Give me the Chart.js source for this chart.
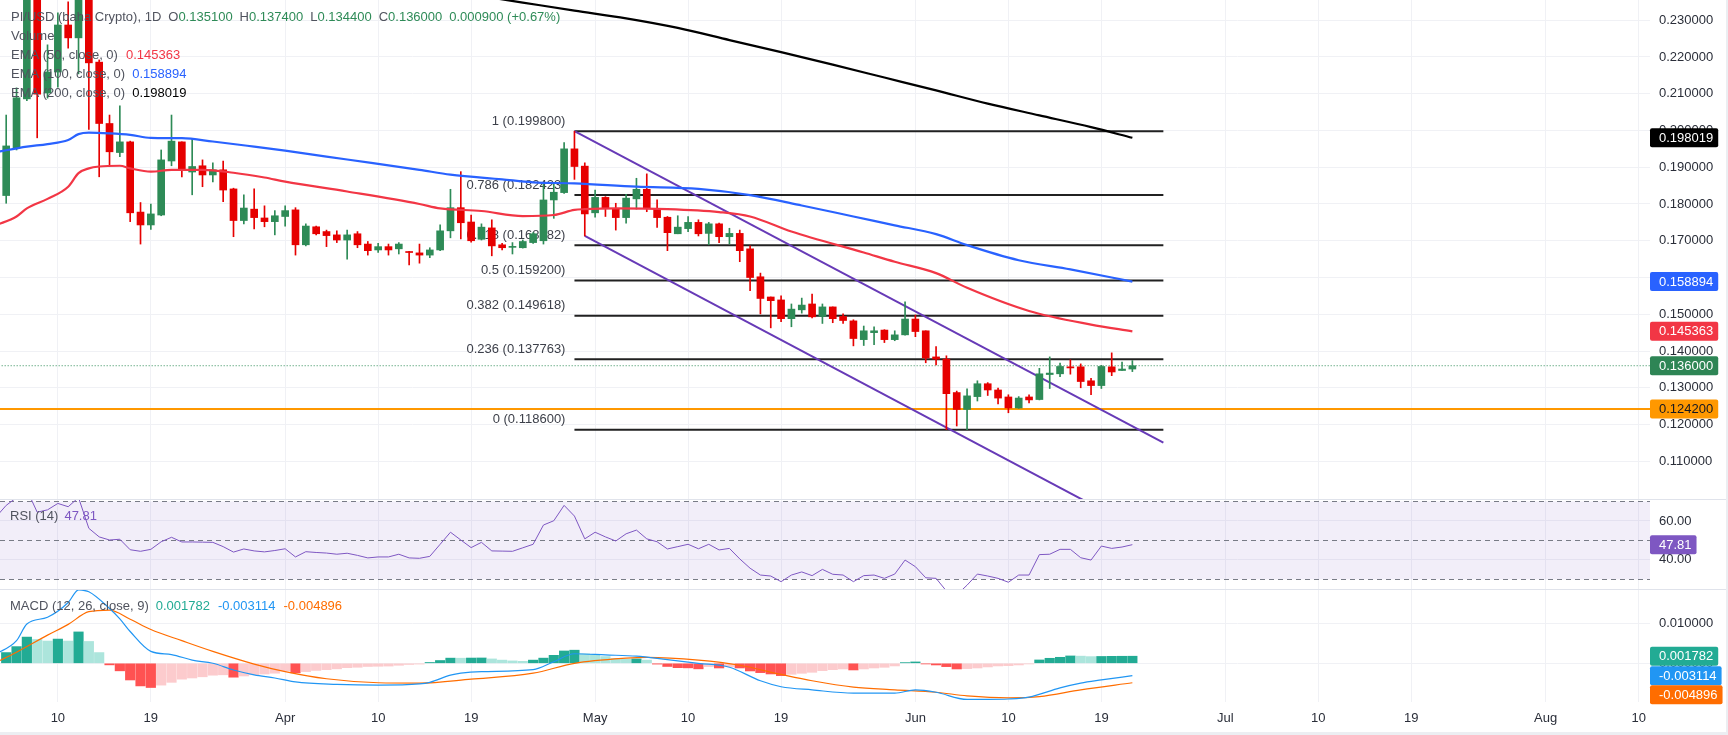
<!DOCTYPE html>
<html><head><meta charset="utf-8">
<script src="https://cdn.jsdelivr.net/npm/chart.js@4.4.1/dist/chart.umd.min.js"></script>
<style>
html,body{margin:0;padding:0;background:#fff;}
#wrap{position:relative;width:1728px;height:735px;overflow:hidden;background:#fff;}
canvas{position:absolute;left:0;}
.sep{position:absolute;left:0;width:1728px;height:1px;background:#e0e3eb;}
</style></head><body>
<div id="wrap">
<canvas id="cMain" width="1728" height="499" style="top:0"></canvas>
<div class="sep" style="top:499px"></div>
<canvas id="cRsi" width="1728" height="89" style="top:500px"></canvas>
<div class="sep" style="top:589px"></div>
<canvas id="cMacd" width="1728" height="145" style="top:590px"></canvas>
<div style="position:absolute;left:1726px;top:0;width:2px;height:735px;background:#eceef2"></div>
<div style="position:absolute;left:0;top:732px;width:1728px;height:3px;background:#eceef2"></div>
</div>
<script>
// ---------- DATA (day numbers count from 10 Mar 2025 = day 0) ----------
const tickDays   = [0, 9, 22, 31, 40, 52, 61, 70, 83, 92, 101, 113, 122, 131, 144, 153];
const tickLabels = ['10','19','Apr','10','19','May','10','19','Jun','10','19','Jul','10','19','Aug','10'];
const priceTicks = [0.11,0.12,0.13,0.14,0.15,0.16,0.17,0.18,0.19,0.20,0.21,0.22,0.23];
const rsiTicks   = [60, 40];
const macdTicks  = [0.01, 0];

const firstCandleDay = -5; // 5 Mar 2025, one candle per day
const opens = [0.1823,0.1953,0.2086,0.2420,0.2102,0.2159,0.2287,0.2252,0.2390,0.2186,
 0.2019,0.1940,0.1969,0.1778,0.1743,0.1770,0.1917,0.1969,0.1887,0.1904,
 0.1879,0.1893,0.1841,0.1755,0.1786,0.1762,0.1752,0.1766,0.1784,0.1689,
 0.1738,0.1725,0.1716,0.1702,0.1719,0.1691,0.1675,0.1684,0.1678,0.1670,
 0.1667,0.1661,0.1675,0.1727,0.1790,0.1751,0.1704,0.1735,0.1689,0.1682,
 0.1681,0.1695,0.1700,0.1811,0.1831,0.1950,0.1903,0.1776,0.1818,0.1788,
 0.1763,0.1814,0.1840,0.1788,0.1764,0.1719,0.1733,0.1750,0.1720,0.1746,
 0.1711,0.1720,0.1678,0.1602,0.1547,0.1539,0.1488,0.1512,0.1528,0.1494,
 0.1520,0.1494,0.1482,0.1431,0.1450,0.1457,0.1431,0.1444,0.1487,0.1455,
 0.1384,0.1378,0.1287,0.1241,0.1276,0.1311,0.1294,0.1275,0.1245,0.1275,
 0.1268,0.1336,0.1338,0.1357,0.1357,0.1319,0.1306,0.1357,0.1347,0.1351];
const highs = [0.2042,0.2116,0.2450,0.2480,0.2233,0.2320,0.2350,0.2440,0.2420,0.2192,
 0.2042,0.2067,0.1971,0.1804,0.1800,0.1947,0.2042,0.1969,0.1976,0.1920,
 0.1912,0.1917,0.1843,0.1825,0.1841,0.1795,0.1782,0.1795,0.1790,0.1746,
 0.1740,0.1729,0.1727,0.1729,0.1725,0.1698,0.1693,0.1691,0.1695,0.1671,
 0.1691,0.1681,0.1743,0.1840,0.1888,0.1770,0.1746,0.1757,0.1693,0.1695,
 0.1702,0.1722,0.1856,0.1858,0.1967,0.1998,0.1912,0.1838,0.1820,0.1802,
 0.1826,0.1870,0.1882,0.1811,0.1766,0.1768,0.1766,0.1757,0.1750,0.1748,
 0.1734,0.1729,0.1686,0.1612,0.1547,0.1550,0.1528,0.1544,0.1555,0.1528,
 0.1520,0.1501,0.1485,0.1468,0.1466,0.1458,0.1455,0.1534,0.1498,0.1455,
 0.1412,0.1387,0.1291,0.1297,0.1319,0.1314,0.1299,0.1281,0.1276,0.1281,
 0.1353,0.1384,0.1367,0.1376,0.1365,0.1326,0.1361,0.1395,0.1370,0.1374];
const lows = [0.1802,0.1947,0.2081,0.1980,0.2088,0.2118,0.2224,0.2154,0.2003,0.1874,
 0.1906,0.1929,0.1752,0.1691,0.1731,0.1768,0.1904,0.1874,0.1825,0.1847,
 0.1860,0.1806,0.1711,0.1746,0.1732,0.1738,0.1716,0.1740,0.1661,0.1686,
 0.1716,0.1684,0.1695,0.1650,0.1681,0.1661,0.1668,0.1661,0.1664,0.1634,
 0.1639,0.1654,0.1673,0.1708,0.1705,0.1696,0.1702,0.1659,0.1675,0.1664,
 0.1680,0.1693,0.1691,0.1761,0.1829,0.1867,0.1713,0.1764,0.1766,0.1729,
 0.1748,0.1786,0.1779,0.1736,0.1673,0.1719,0.1725,0.1713,0.1689,0.1695,
 0.1691,0.1643,0.1564,0.1501,0.1463,0.1480,0.1466,0.1503,0.1490,0.1475,
 0.1477,0.1475,0.1414,0.1415,0.1417,0.1423,0.1428,0.1443,0.1439,0.1368,
 0.1362,0.1186,0.1196,0.1186,0.1264,0.1279,0.1256,0.1232,0.1244,0.1259,
 0.1267,0.1298,0.1330,0.1337,0.1300,0.1281,0.1298,0.1333,0.1347,0.1344];
const closes = [0.1958,0.2089,0.2420,0.2099,0.2159,0.2287,0.2252,0.2390,0.2184,0.2019,
 0.1942,0.1969,0.1776,0.1743,0.1773,0.1920,0.1971,0.1891,0.1902,0.1879,
 0.1893,0.1838,0.1755,0.1789,0.1763,0.1752,0.1768,0.1782,0.1689,0.1740,
 0.1719,0.1714,0.1702,0.1716,0.1689,0.1673,0.1684,0.1675,0.1691,0.1668,
 0.1661,0.1675,0.1727,0.1790,0.1749,0.1700,0.1737,0.1686,0.1681,0.1684,
 0.1698,0.1719,0.1811,0.1832,0.1950,0.1902,0.1773,0.1818,0.1788,0.1763,
 0.1816,0.1840,0.1788,0.1763,0.1722,0.1737,0.1750,0.1719,0.1746,0.1711,
 0.1720,0.1673,0.1600,0.1543,0.1537,0.1488,0.1514,0.1525,0.1493,0.1520,
 0.1488,0.1483,0.1434,0.1455,0.1455,0.1431,0.1444,0.1487,0.1453,0.1381,
 0.1378,0.1284,0.1241,0.1278,0.1311,0.1294,0.1272,0.1245,0.1272,0.1267,
 0.1338,0.1340,0.1358,0.1354,0.1317,0.1306,0.1358,0.1343,0.1351,0.1360];

const ema50Days = [-6,-4,-3,-1,1,2,3,4,6,7,9,11,14,17,20,22,28,35,37,41,45,48,50,51,54,59,64,67,71,78,81,85,88,94,100,104];
const ema50Vals = [0.1742,0.1766,0.1788,0.1814,0.1847,0.1884,0.1897,0.1902,0.1904,0.1897,0.1888,0.1893,0.1893,0.1885,0.1872,0.1861,0.1834,0.1800,0.1788,0.1781,0.1767,0.1770,0.1784,0.1786,0.1788,0.1786,0.1778,0.1766,0.1725,0.1668,0.1643,0.1612,0.1572,0.1509,0.1472,0.145363];
const ema100Days = [-6,-3,-1,1,2,3,5,7,9,12,15,19,22,28,35,38,43,46,50,56,62,67,72,77,81,85,88,93,98,104];
const ema100Vals = [0.1941,0.1956,0.1963,0.1974,0.1990,0.1994,0.1992,0.1988,0.1980,0.1979,0.1970,0.1956,0.1945,0.1921,0.1893,0.1880,0.1867,0.1859,0.1856,0.1847,0.1841,0.1824,0.1796,0.1766,0.1742,0.1718,0.1688,0.1647,0.1622,0.158894];
const ema200Days = [35,40,45,50,55,60,65,70,75,80,85,90,95,100,104];
const ema200Vals = [0.2392,0.2370,0.2348,0.2326,0.2305,0.2279,0.2246,0.2213,0.2179,0.2144,0.2109,0.2073,0.2041,0.2009,0.198019];

const fibRatios = [1, 0.786, 0.618, 0.5, 0.382, 0.236, 0];
const fibLevels = [0.1998, 0.182423, 0.168782, 0.1592, 0.149618, 0.137763, 0.1186];
const fibSpanDays = [50, 107];
const channelUpperDays = [50, 107];
const channelUpperVals = [0.1998, 0.1151];
const channelLowerDays = [51, 107];
const channelLowerVals = [0.1713, 0.0879];
const supportLevel = 0.1242;

const rsiFirstDay = -6;
const rsiValues = [62,68,72,76,64.5,65.7,69,67.3,72,56.2,
 51.8,50.2,50.6,45.2,44.4,45.4,49.3,51.6,49.2,49.2,
 49.1,49.0,46.8,44.0,45.6,44.6,44.1,44.8,45.7,41.5,
 44.2,43.8,43.5,42.9,43.4,42.3,41.0,41.5,41.5,42.9,
 41.0,40.8,41.8,48.0,54.2,50.2,46.3,49.0,44.6,44.5,
 44.4,46.2,48.0,57.9,60.1,68.0,62.5,50.8,54.2,51.8,
 49.7,53.4,55.3,50.8,49.3,45.6,46.8,48.0,45.7,48.0,
 45.1,45.9,40.5,35.7,32.2,31.7,28.8,32.2,33.8,31.9,
 35.1,32.6,32.2,28.8,31.9,32.2,30.5,32.7,39.9,36.5,
 30.8,30.5,24.0,22.0,27.0,32.7,31.7,30.5,28.5,32.2,
 32.2,42.7,42.9,45.4,45.4,41.1,39.9,47.1,45.9,46.6,47.81];

const histFirstDay = -5;
const histValues = [0.0027,0.0042,0.0066,0.0060,0.0056,0.0061,0.0056,0.0079,0.0055,0.0027,
 -0.0004,-0.0019,-0.0042,-0.0057,-0.0061,-0.0055,-0.0048,-0.0040,-0.0037,-0.0034,
 -0.0030,-0.0029,-0.0035,-0.0032,-0.0029,-0.0027,-0.0025,-0.0019,-0.0024,-0.0021,
 -0.0018,-0.0016,-0.0014,-0.0011,-0.0010,-0.0008,-0.00075,-0.0007,-0.0005,-0.0003,
 -0.0002,0.0002,0.0007,0.0013,0.00128,0.00132,0.00134,0.0011,0.0008,0.0006,
 0.0005,0.0008,0.0013,0.0020,0.0031,0.0033,0.0024,0.0022,0.0017,0.0012,
 0.00105,0.0011,0.0008,-0.0002,-0.0008,-0.0011,-0.00115,-0.0014,-0.00084,-0.00118,
 -0.00084,-0.00118,-0.00193,-0.00235,-0.00269,-0.00311,-0.00277,-0.00252,-0.00227,-0.00185,
 -0.0016,-0.00143,-0.00168,-0.00143,-0.00118,-0.00101,-0.00067,0.00017,0.00034,-0.00017,
 -0.00042,-0.00084,-0.00143,-0.00134,-0.00118,-0.00092,-0.00067,-0.00059,-0.00042,-0.00017,
 0.00084,0.00126,0.00151,0.00185,0.00180,0.00168,0.00172,0.00175,0.00177,0.001782];
const macdDays = [-6,-4,-3,-1,1,2,3,5,6,7,9,11,13,15,17,19,21,23,27,31,35,36,38,39,41,46,48,50,53,56,59,62,65,68,70,73,77,81,83,85,88,90,92,94,97,99,101,104];
const macdVals = [0.0023,0.0057,0.0099,0.0116,0.0153,0.0185,0.0180,0.0138,0.0112,0.0080,0.0030,0.0022,0.0008,0.0000,-0.0017,-0.0029,-0.0037,-0.0047,-0.0053,-0.0055,-0.0052,-0.0048,-0.0030,-0.0025,-0.0021,-0.0016,0.0004,0.0024,0.0021,0.0018,0.0009,0.0000,-0.0010,-0.0044,-0.0059,-0.0067,-0.0075,-0.0075,-0.0067,-0.0073,-0.0091,-0.0091,-0.0090,-0.0085,-0.0062,-0.0050,-0.0042,-0.003114];
const signalDays = [-6,-4,-1,1,3,5,7,9,12,15,19,22,26,31,35,40,46,50,55,57,62,66,70,73,77,81,85,88,92,95,99,104];
const signalVals = [0.0002,0.0028,0.0071,0.0098,0.0130,0.0134,0.0111,0.0085,0.0057,0.0030,-0.0002,-0.0021,-0.0039,-0.0049,-0.0050,-0.0040,-0.0025,0.0000,0.0013,0.0015,0.0008,-0.0005,-0.0028,-0.0044,-0.0060,-0.0067,-0.0073,-0.0082,-0.0087,-0.0084,-0.0067,-0.004896];

// ---------- VIEW ----------
const X_MIN = -5.6, X_MAX = 154.1;
const PRICE_MIN = 0.09974, PRICE_MAX = 0.2355;
const RSI_MIN = 25.03, RSI_MAX = 70.76;
const MACD_MIN = -0.00975, MACD_MAX = 0.01846;

const FONT = "'Liberation Sans', Arial, sans-serif";
const GRID = '#f0f1f5', TXT = '#2a2e39', LEG = '#50535e';
const GREEN = '#2e8b57', RED = '#e60000';
Chart.defaults.font.family = FONT;
Chart.defaults.font.size = 13;

const candleDays = opens.map((_, i) => firstCandleDay + i);
const candleColors = opens.map((o, i) => closes[i] >= o ? GREEN : RED);
const pts = (days, vals) => days.map((d, i) => ({x: d, y: vals[i]}));
const last = a => a[a.length - 1];

function zeroPad(s){ s.paddingTop = s.paddingBottom = s.paddingLeft = s.paddingRight = 0; }
function xAxis(show){
  return {type:'linear', min:X_MIN, max:X_MAX, offset:false,
    grid:{color:GRID, drawTicks:false, offset:false}, border:{display:false},
    ticks:{display:show, autoSkip:false, maxRotation:0, padding:9, color:TXT, font:{size:13},
      callback:(v, i) => tickLabels[i]},
    afterBuildTicks:s => { s.ticks = tickDays.map(v => ({value:v})); },
    afterFit:s => { s.height = show ? 33 : 0; zeroPad(s); }};
}
function yAxis(min, max, ticks, fmt){
  return {position:'right', min, max,
    grid:{color:GRID, drawTicks:false}, border:{display:false},
    ticks:{padding:9, color:TXT, font:{size:13}, callback:v => fmt(v)},
    afterBuildTicks:s => { s.ticks = ticks.map(v => ({value:v})); },
    afterFit:s => { s.width = 78; zeroPad(s); }};
}
function runs(ctx, x, y, list){
  list.forEach(([t, c, g]) => { x += (g || 0); ctx.fillStyle = c; ctx.fillText(t, x, y); x += ctx.measureText(t).width; });
}
function box(ctx, x, yc, text, bg, fg){
  ctx.font = '13px ' + FONT;
  const w = ctx.measureText(text).width + 14;
  ctx.fillStyle = bg;
  ctx.beginPath();
  if (ctx.roundRect) ctx.roundRect(x, yc - 9.5, w, 19, 2); else ctx.rect(x, yc - 9.5, w, 19);
  ctx.fill();
  ctx.fillStyle = fg; ctx.textAlign = 'left'; ctx.textBaseline = 'middle';
  ctx.fillText(text, x + 9, yc + 0.5);
}
const baseOpts = {responsive:false, animation:false, events:[], layout:{padding:0},
  plugins:{legend:{display:false}, tooltip:{enabled:false}}};

// ---------- MAIN PANE ----------
const lineDs = (data, color, width, order, extra) => Object.assign(
  {type:'line', data, borderColor:color, borderWidth:width, pointRadius:0, fill:false, order, clip:0}, extra || {});

const mainDatasets = [
  lineDs(pts(ema50Days, ema50Vals), '#f23645', 2.2, 0, {cubicInterpolationMode:'monotone'}),
  lineDs(pts(ema100Days, ema100Vals), '#2962ff', 2.2, 0, {cubicInterpolationMode:'monotone'}),
  lineDs(pts(ema200Days, ema200Vals), '#000000', 2.2, 0, {cubicInterpolationMode:'monotone'}),
  {type:'bar', data:candleDays.map((d, i) => ({x:d, y:[opens[i], closes[i]]})), backgroundColor:candleColors,
    barThickness:7, grouped:false, minBarLength:1, borderWidth:0, order:1, clip:0},
  {type:'bar', data:candleDays.map((d, i) => ({x:d, y:[lows[i], highs[i]]})), backgroundColor:candleColors,
    barThickness:1, grouped:false, borderWidth:0, order:2, clip:0},
  lineDs(pts(channelUpperDays, channelUpperVals), '#673ab7', 2, 3),
  lineDs(pts(channelLowerDays, channelLowerVals), '#673ab7', 2, 3),
  lineDs([{x:X_MIN - 1, y:supportLevel}, {x:X_MAX + 1, y:supportLevel}], '#ff9800', 2, 5),
  lineDs([{x:X_MIN - 1, y:last(closes)}, {x:X_MAX + 1, y:last(closes)}], GREEN, 1, 5, {borderDash:[1, 2]})
];
fibLevels.forEach(lv => mainDatasets.push(lineDs(pts(fibSpanDays, [lv, lv]), '#212121', 2, 4)));

const fibLabelPlugin = {id:'fibLabels', beforeDatasetsDraw(chart){
  const {ctx, scales:{x, y}} = chart;
  ctx.save(); ctx.font = '13px ' + FONT; ctx.fillStyle = '#3d404a'; ctx.textAlign = 'right'; ctx.textBaseline = 'middle';
  const xr = x.getPixelForValue(fibSpanDays[0]) - 9;
  fibLevels.forEach((lv, i) => ctx.fillText(fibRatios[i] + ' (' + lv.toFixed(6) + ')', xr, y.getPixelForValue(lv) - 10));
  ctx.restore();
}};
const mainOverlay = {id:'mainOverlay', afterDraw(chart){
  const {ctx, chartArea, scales:{y}} = chart;
  ctx.save(); ctx.font = '13px ' + FONT; ctx.textAlign = 'left'; ctx.textBaseline = 'middle';
  const n = closes.length - 1, f = v => v.toFixed(6);
  const ch = closes[n] - closes[n - 1];
  const chTxt = (ch >= 0 ? '' : '-') + Math.abs(ch).toFixed(6) + ' (' + (ch >= 0 ? '+' : '') + (ch / closes[n - 1] * 100).toFixed(2) + '%)';
  const vc = closes[n] >= opens[n] ? GREEN : RED;
  runs(ctx, 11, 17.5, [['PI/USD (baha Crypto), 1D', LEG], ['O', LEG, 7], [f(opens[n]), vc], ['H', LEG, 7], [f(highs[n]), vc],
    ['L', LEG, 7], [f(lows[n]), vc], ['C', LEG, 7], [f(closes[n]), vc], [chTxt, vc, 7]]);
  runs(ctx, 11, 36.5, [['Volume', LEG]]);
  runs(ctx, 11, 55.5, [['EMA (50, close, 0)', LEG], [f(last(ema50Vals)), '#f23645', 8]]);
  runs(ctx, 11, 74.5, [['EMA (100, close, 0)', LEG], [f(last(ema100Vals)), '#2962ff', 7]]);
  runs(ctx, 11, 93.5, [['EMA (200, close, 0)', LEG], [f(last(ema200Vals)), '#000000', 7]]);
  const xb = chartArea.right;
  [[last(ema200Vals), '#000000', '#ffffff'], [last(ema100Vals), '#2962ff', '#ffffff'], [last(ema50Vals), '#f23645', '#ffffff'],
   [last(closes), '#2e8555', '#ffffff'], [supportLevel, '#ff9800', '#131722']]
    .forEach(([v, bg, fg]) => box(ctx, xb, y.getPixelForValue(v), v.toFixed(6), bg, fg));
  ctx.restore();
}};
new Chart(document.getElementById('cMain'), {type:'line', data:{datasets:mainDatasets},
  options:Object.assign({}, baseOpts, {scales:{x:xAxis(false), y:yAxis(PRICE_MIN, PRICE_MAX, priceTicks, v => v.toFixed(6))}}),
  plugins:[fibLabelPlugin, mainOverlay]});

// ---------- RSI PANE ----------
const rsiBand = {id:'rsiBand', beforeDatasetsDraw(chart){
  const {ctx, chartArea:a, scales:{y}} = chart;
  ctx.save();
  ctx.fillStyle = 'rgba(126,87,194,0.1)';
  ctx.fillRect(a.left, y.getPixelForValue(70), a.right - a.left, y.getPixelForValue(30) - y.getPixelForValue(70));
  ctx.strokeStyle = '#787b86'; ctx.lineWidth = 1; ctx.setLineDash([5, 4]);
  [70, 50, 30].forEach(v => { const py = Math.round(y.getPixelForValue(v)) + 0.5; ctx.beginPath(); ctx.moveTo(a.left, py); ctx.lineTo(a.right, py); ctx.stroke(); });
  ctx.restore();
}};
const rsiOverlay = {id:'rsiOverlay', afterDraw(chart){
  const {ctx, chartArea:a, scales:{y}} = chart;
  ctx.save(); ctx.font = '13px ' + FONT; ctx.textAlign = 'left'; ctx.textBaseline = 'middle';
  runs(ctx, 10, 16.5, [['RSI (14)', LEG], [last(rsiValues).toFixed(2), '#7e57c2', 6]]);
  box(ctx, a.right, y.getPixelForValue(last(rsiValues)), last(rsiValues).toFixed(2), '#7e57c2', '#ffffff');
  ctx.restore();
}};
new Chart(document.getElementById('cRsi'), {type:'line',
  data:{datasets:[lineDs(rsiValues.map((v, i) => ({x:rsiFirstDay + i, y:v})), '#7e57c2', 1, 0)]},
  options:Object.assign({}, baseOpts, {scales:{x:xAxis(false), y:yAxis(RSI_MIN, RSI_MAX, rsiTicks, v => v.toFixed(2))}}),
  plugins:[rsiBand, rsiOverlay]});

// ---------- MACD PANE ----------
const histColors = histValues.map((v, i) => {
  const p = i ? histValues[i - 1] : v;
  return v >= 0 ? (v >= p ? '#22ab94' : '#ace5dc') : (v <= p ? '#ff5252' : '#fccbcd');
});
const macdOverlay = {id:'macdOverlay', afterDraw(chart){
  const {ctx, chartArea:a, scales:{y}} = chart;
  ctx.save(); ctx.font = '13px ' + FONT; ctx.textAlign = 'left'; ctx.textBaseline = 'middle';
  const h = last(histValues), m = last(macdVals), s = last(signalVals);
  runs(ctx, 10, 16.5, [['MACD (12, 26, close, 9)', LEG], [h.toFixed(6), '#22ab94', 7], [m.toFixed(6), '#2196f3', 8], [s.toFixed(6), '#ff6d00', 8]]);
  const items = [[h, '#22ab94'], [m, '#2196f3'], [s, '#ff6d00']].map(([v, c]) => ({v, c, y:y.getPixelForValue(v)})).sort((p, q) => p.y - q.y);
  let prev = -1e9;
  items.forEach(it => { const yy = Math.max(it.y, prev + 19); prev = yy; box(ctx, a.right, yy, it.v.toFixed(6), it.c, '#ffffff'); });
  ctx.restore();
}};
new Chart(document.getElementById('cMacd'), {type:'line',
  data:{datasets:[
    lineDs(pts(macdDays, macdVals), '#2196f3', 1.2, 0, {cubicInterpolationMode:'monotone'}),
    lineDs(pts(signalDays, signalVals), '#ff6d00', 1.2, 0, {cubicInterpolationMode:'monotone'}),
    {type:'bar', data:histValues.map((v, i) => ({x:histFirstDay + i, y:v})), backgroundColor:histColors,
      barThickness:9.5, grouped:false, borderWidth:0, order:1, clip:0}
  ]},
  options:Object.assign({}, baseOpts, {scales:{x:xAxis(true), y:yAxis(MACD_MIN, MACD_MAX, macdTicks, v => v.toFixed(6))}}),
  plugins:[macdOverlay]});
</script>
</body></html>
